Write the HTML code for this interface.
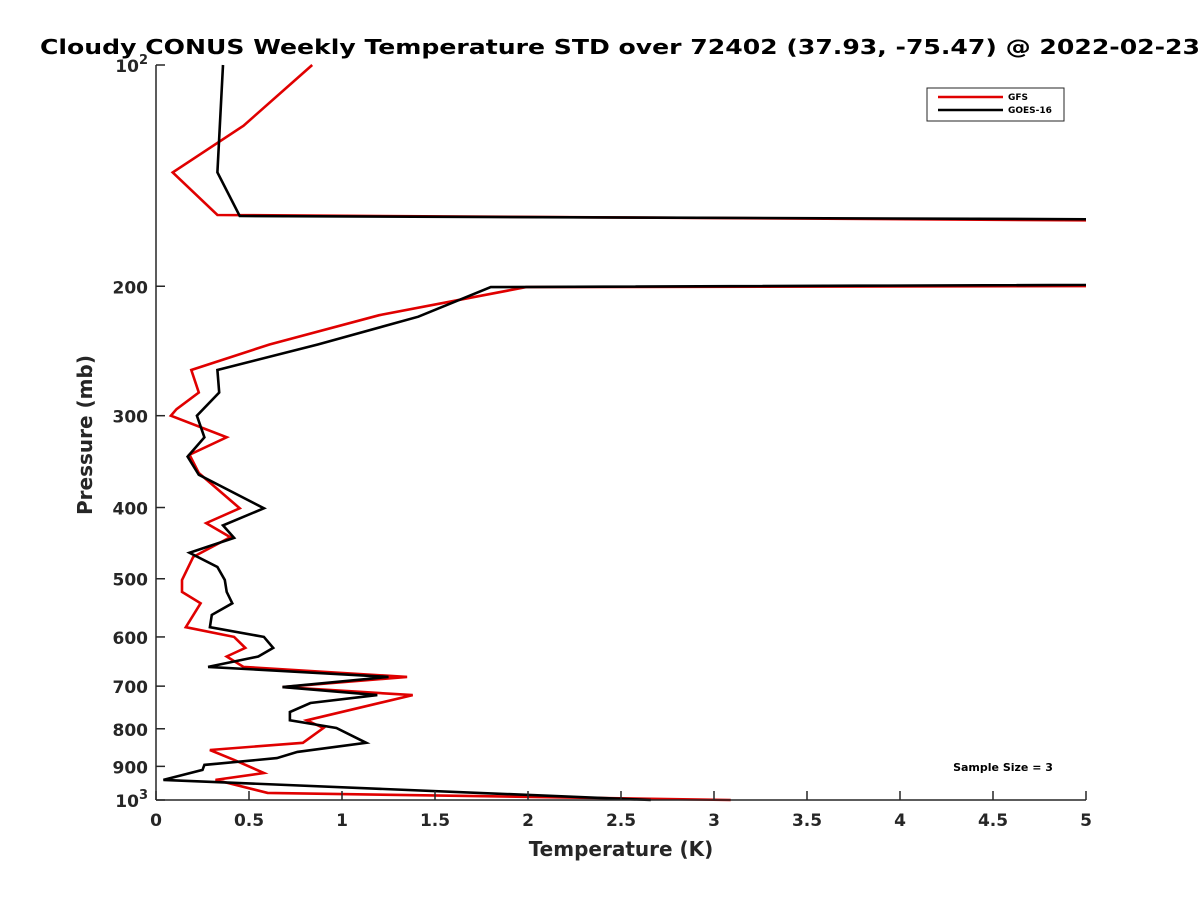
<!DOCTYPE html>
<html><head><meta charset="utf-8"><style>
body{margin:0;background:#fff;}
svg{display:block;font-family:"DejaVu Sans","Liberation Sans",sans-serif;}
</style></head><body>
<svg id="chart" width="1200" height="900" viewBox="0 0 1200 900">
<rect width="1200" height="900" fill="#fff"/>
<text x="40" y="54" textLength="1160" lengthAdjust="spacingAndGlyphs" font-size="20" font-weight="bold" fill="#000">Cloudy CONUS Weekly Temperature STD over 72402 (37.93, -75.47) @ 2022-02-23</text>
<defs><clipPath id="plotclip"><rect x="156" y="60" width="930" height="745"/></clipPath></defs>
<g id="series" clip-path="url(#plotclip)"></g>
<g id="axes"></g>
<g>
<rect x="927" y="88" width="137" height="33" fill="#fff" stroke="#262626" stroke-width="1"/>
<line x1="938" y1="97" x2="1003" y2="97" stroke="#e00000" stroke-width="2.5"/>
<text x="1008" y="100" font-size="9" font-weight="bold">GFS</text>
<line x1="938" y1="110" x2="1003" y2="110" stroke="#000" stroke-width="2.5"/>
<text x="1008" y="113" font-size="9" font-weight="bold">GOES-16</text>
</g>
<text x="1003" y="771" text-anchor="middle" font-size="11" font-weight="bold">Sample Size = 3</text>
<text x="621" y="856" text-anchor="middle" font-size="20" font-weight="bold" fill="#262626">Temperature (K)</text>
<text transform="translate(92,435) rotate(-90)" text-anchor="middle" font-size="20" font-weight="bold" fill="#262626">Pressure (mb)</text>
</svg>
<script>
const gfsPressure=[100,121,140,160,165,199,200.5,219,240,260,279,294,300,321,339,359,401,420,439,467,502,521,540,582,600,621,638,659,680,702,720,779,798,836,855,882,919,939,978,1000];
const gfsValues=[0.84,0.47,0.09,0.33,9,9,1.99,1.20,0.61,0.19,0.23,0.11,0.08,0.38,0.18,0.23,0.45,0.27,0.40,0.20,0.14,0.14,0.24,0.16,0.42,0.48,0.38,0.47,1.35,0.68,1.38,0.81,0.90,0.79,0.29,0.42,0.58,0.32,0.60,3.09];
const goesPressure=[100,140,160.5,163.6,197.4,200.5,220,240,260,279,300,321,341,361,401,423,440,461,482,502,521,540,560,582,600,621,638,659,680,702,720,738,759,779,798,836,860,877,896,910,939,1000];
const goesValues=[0.36,0.33,0.45,9,9,1.80,1.41,0.87,0.33,0.34,0.22,0.26,0.17,0.23,0.58,0.36,0.42,0.18,0.33,0.37,0.38,0.41,0.30,0.29,0.58,0.63,0.55,0.28,1.25,0.68,1.19,0.83,0.72,0.72,0.97,1.13,0.76,0.65,0.26,0.25,0.04,2.66];
const xTicks=[0,0.5,1,1.5,2,2.5,3,3.5,4,4.5,5];
const xTickLabels=["0","0.5","1","1.5","2","2.5","3","3.5","4","4.5","5"];
const yTicks=[100,200,300,400,500,600,700,800,900,1000];
const yTickLabels=["10|2","200","300","400","500","600","700","800","900","10|3"];

const X0=156,X1=1086,Y0=65,Y1=800;
function xs(v){return X0+(v/5)*(X1-X0);}
function ys(p){return Y0+(Math.log10(p)-2)*(Y1-Y0);}
const NS="http://www.w3.org/2000/svg";
const sg=document.getElementById('series'),ag=document.getElementById('axes');
function line(p,v,color,name){
  const el=document.createElementNS(NS,'polyline');
  
  
  el.setAttribute('points',p.map((pp,i)=>xs(v[i]).toFixed(1)+','+ys(pp).toFixed(1)).join(' '));
  el.setAttribute('fill','none');el.setAttribute('stroke',color);el.setAttribute('stroke-width','2.6');el.setAttribute('stroke-linejoin','miter');
  sg.appendChild(el);
}
line(gfsPressure,gfsValues,'#e00000','gfs-line');
line(goesPressure,goesValues,'#000','goes16-line');
function mk(tag,attrs){const e=document.createElementNS(NS,tag);for(const k in attrs)e.setAttribute(k,attrs[k]);ag.appendChild(e);return e;}
const xa=mk('line',{x1:X0,y1:Y1,x2:X1,y2:Y1,stroke:'#262626','stroke-width':1.5});


const ya=mk('line',{x1:X0,y1:Y0,x2:X0,y2:Y1,stroke:'#262626','stroke-width':1.5});


xTicks.forEach((t,i)=>{
  mk('line',{x1:xs(t),y1:Y1,x2:xs(t),y2:Y1-9,stroke:'#262626','stroke-width':1.5});
  const tx=mk('text',{x:xs(t),y:Y1+26,'text-anchor':'middle','font-size':17,'font-weight':'bold',fill:'#262626'});
  tx.textContent=xTickLabels[i];
  
  
});
yTicks.forEach((t,i)=>{
  mk('line',{x1:X0,y1:ys(t),x2:X0+9,y2:ys(t),stroke:'#262626','stroke-width':1.5});
  const tx=mk('text',{x:X0-8,y:ys(t)+7,'text-anchor':'end','font-size':17,'font-weight':'bold',fill:'#262626'});
  const parts=yTickLabels[i].split('|');
  if(parts.length===2){
    const a=document.createElementNS(NS,'tspan');a.textContent=parts[0];tx.appendChild(a);
    const b=document.createElementNS(NS,'tspan');b.textContent=parts[1];b.setAttribute('dy','-8');b.setAttribute('font-size','13');tx.appendChild(b);
  } else tx.textContent=parts[0];
  
  
});
</script>
</body></html>
